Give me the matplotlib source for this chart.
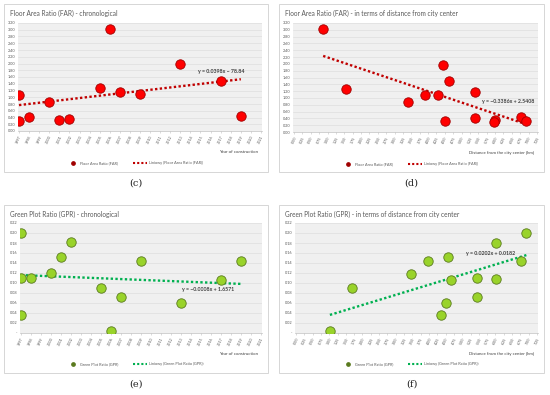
import numpy as np
import matplotlib
matplotlib.use('Agg')
import matplotlib.pyplot as plt
from matplotlib.patches import Rectangle
from matplotlib.lines import Line2D

plt.rcParams['font.family'] = ['Lato', 'DejaVu Sans']

W, H = 550, 395

# (c) FAR vs year
far_year = [1997, 1997, 1998, 2000, 2001, 2002, 2005, 2006, 2007, 2009, 2013, 2017, 2019]
far_year_val = [1.08, 0.30, 0.41, 0.87, 0.33, 0.36, 1.27, 3.01, 1.16, 1.10, 2.00, 1.48, 0.44]
# (d) FAR vs distance
far_dist = [0.87, 1.55, 3.39, 3.90, 4.31, 4.44, 4.51, 4.62, 5.39, 5.39, 6.00, 5.98, 6.76, 6.93]
far_dist_val = [3.01, 1.27, 0.88, 1.10, 1.08, 1.98, 0.33, 1.49, 1.16, 0.41, 0.36, 0.29, 0.43, 0.31]
# (e) GPR vs year
gpr_year = [1997, 1997, 1997, 1998, 2000, 2001, 2002, 2005, 2006, 2007, 2009, 2013, 2017, 2019]
gpr_year_val = [0.200, 0.110, 0.037, 0.110, 0.120, 0.153, 0.182, 0.090, 0.004, 0.072, 0.145, 0.060, 0.106, 0.145]
# (f) GPR vs distance
gpr_dist = [1.02, 1.69, 3.47, 3.98, 4.37, 4.51, 4.58, 4.67, 5.43, 5.43, 6.03, 6.03, 6.76, 6.93]
gpr_dist_val = [0.004, 0.090, 0.119, 0.145, 0.037, 0.060, 0.153, 0.106, 0.110, 0.072, 0.181, 0.109, 0.145, 0.200]

year_ticks = list(range(1997, 2022))
dist_ticks = [i * 0.25 for i in range(30)]
far_yticks = [i * 0.2 for i in range(17)]
gpr_yticks = [i * 0.02 for i in range(12)]

eq_c = "y = 0.0398x \u2212 78.84"
eq_d = "y = \u22120.3386x + 2.5408"
eq_e = "y = \u22120.0008x + 1.6571"
eq_f = "y = 0.0202x + 0.0182"

RED_FILL, RED_EDGE, RED_LINE = '#ff0000', '#a00000', '#c00000'
GRN_FILL, GRN_EDGE, GRN_LINE = '#99d32a', '#5a7a1e', '#00b050'
TXT = '#595959'


def fx(x):
    return x / W


def fy(y):
    return 1 - y / H


def panel(fig, box, area, title, xs, ys, xticks, xlabels, yticks, ylabels,
          xlim, ylim, eq, eq_pos, xlabel, series, fill, edge, line, leg_y, leg_x, caption):
    bx0, by0, bx1, by1 = box
    fig.add_artist(Rectangle((fx(bx0), fy(by1)), fx(bx1 - bx0), (by1 - by0) / H,
                             transform=fig.transFigure, facecolor='white',
                             edgecolor='#d0d0d0', linewidth=0.6, zorder=0))
    x0, y0, x1, y1 = area
    ax = fig.add_axes([fx(x0), fy(y1), fx(x1 - x0), (y1 - y0) / H])
    ax.set_facecolor('#f0f0f0')
    for s in ['top', 'right', 'left']:
        ax.spines[s].set_visible(False)
    ax.spines['bottom'].set_color('#bfbfbf')
    ax.spines['bottom'].set_linewidth(0.5)
    ax.set_xlim(*xlim)
    ax.set_ylim(*ylim)
    ax.set_yticks(yticks)
    ax.set_yticklabels(ylabels, fontsize=2.8, color=TXT)
    ax.set_xticks(xticks)
    ax.set_xticklabels(xlabels, fontsize=2.7, color=TXT, rotation=65,
                       ha='right', rotation_mode='anchor')
    ax.tick_params(axis='y', length=0, pad=2)
    ax.tick_params(axis='x', length=1.5, width=0.4, color='#bfbfbf', pad=1.5)
    ax.grid(axis='y', color='#dadada', linewidth=0.4)
    ax.set_axisbelow(True)

    # linear trendline fitted to the data
    k, b = np.polyfit(xs, ys, 1)
    tx = np.array([min(xs), max(xs)])
    ax.plot(tx, k * tx + b, linestyle=(0, (1, 1)), color=line, linewidth=1.7, zorder=2)
    ax.scatter(xs, ys, s=46, facecolor=fill, edgecolor=edge, linewidth=0.6, zorder=3)

    fig.text(fx(eq_pos[0]), fy(eq_pos[1]), eq, fontsize=3.8, fontweight='bold',
             color='#404040', ha='center', va='center')
    fig.text(fx(bx0 + 6), fy(by0 + 9), title, fontsize=4.7, color=TXT, ha='left', va='center')
    fig.text(fx(x1 - 4), fy(y1 + 21), xlabel, fontsize=3.2, color='#404040',
             ha='right', va='center')
    # legend
    lx = leg_x
    fig.add_artist(Line2D([fx(lx)], [fy(leg_y)], marker='o', markersize=2.4,
                          color=edge, markerfacecolor=edge, transform=fig.transFigure))
    fig.text(fx(lx + 7), fy(leg_y), series, fontsize=2.8, color=TXT, ha='left', va='center')
    fig.add_artist(Line2D([fx(lx + 60), fx(lx + 74)], [fy(leg_y), fy(leg_y)],
                          linestyle=(0, (1, 1)), color=line, linewidth=1.5,
                          transform=fig.transFigure))
    fig.text(fx(lx + 76), fy(leg_y), 'Liniowy (' + series + ')', fontsize=2.8,
             color=TXT, ha='left', va='center')
    fig.text(fx((bx0 + bx1) / 2), fy(by1 + 11), caption, fontsize=7,
             family='DejaVu Serif', color='#222222', ha='center', va='center')
    return ax


fig = plt.figure(figsize=(5.5, 3.95), dpi=100)

far_ylabels = ['%.2f' % v for v in far_yticks]
gpr_ylabels = ['-'] + ['%.2f' % v for v in gpr_yticks[1:]]
dist_labels = ['%.2f' % v for v in dist_ticks]
year_labels = [str(v) for v in year_ticks]

panel(fig, (4, 4, 268, 172), (18, 23, 262, 131), 'Floor Area Ratio (FAR) - chronological',
      far_year, far_year_val, year_ticks, year_labels, far_yticks, far_ylabels,
      (1996.9, 2021.1), (0, 3.2), eq_c, (221, 71), 'Year of construction',
      'Floor Area Ratio (FAR)', RED_FILL, RED_EDGE, RED_LINE, 163, 73, '(c)')

panel(fig, (279, 4, 544, 172), (293, 23, 538, 132),
      'Floor Area Ratio (FAR) - in terms of distance from city center',
      far_dist, far_dist_val, dist_ticks, dist_labels, far_yticks, far_ylabels,
      (-0.03, 7.28), (0, 3.2), eq_d, (508, 102), 'Distance from the city center [km]',
      'Floor Area Ratio (FAR)', RED_FILL, RED_EDGE, RED_LINE, 164, 348, '(d)')

panel(fig, (4, 205, 268, 373), (20, 223, 262, 333), 'Green Plot Ratio (GPR) - chronological',
      gpr_year, gpr_year_val, year_ticks, year_labels, gpr_yticks, gpr_ylabels,
      (1996.9, 2021.1), (0, 0.22), eq_e, (208, 289), 'Year of construction',
      'Green Plot Ratio (GPR)', GRN_FILL, GRN_EDGE, GRN_LINE, 364, 73, '(e)')

panel(fig, (279, 205, 544, 373), (295, 223, 538, 333),
      'Green Plot Ratio (GPR) - in terms of distance from city center',
      gpr_dist, gpr_dist_val, dist_ticks, dist_labels, gpr_yticks, gpr_ylabels,
      (-0.03, 7.28), (0, 0.22), eq_f, (491, 254), 'Distance from the city center [km]',
      'Green Plot Ratio (GPR)', GRN_FILL, GRN_EDGE, GRN_LINE, 364, 348, '(f)')

fig.savefig('out.png', dpi=100)
